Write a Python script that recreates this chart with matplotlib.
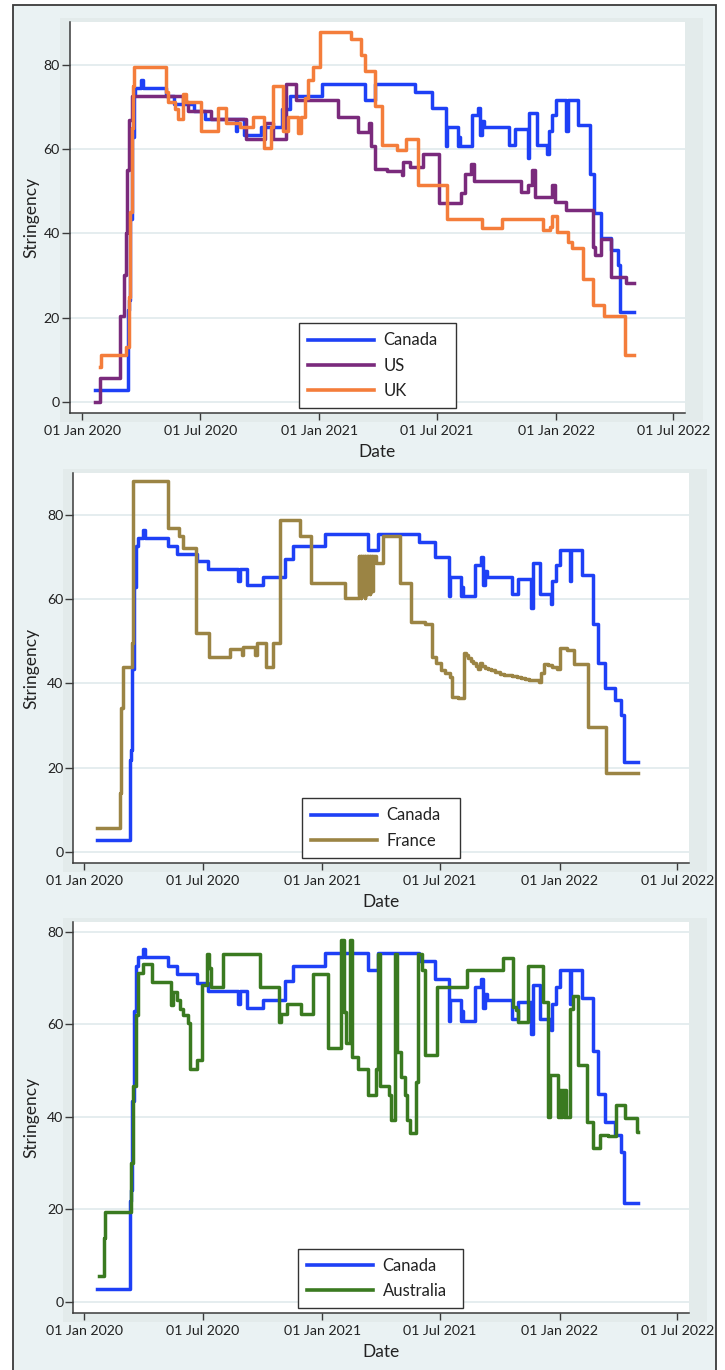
import matplotlib
matplotlib.use("Agg")
import matplotlib.pyplot as plt
import matplotlib.dates as mdates
import pandas as pd
from matplotlib.patches import Rectangle

plt.rcParams['font.family'] = ['Lato', 'DejaVu Sans']

# ---------------- data (OxCGRT-style stringency index, change points) ----------------
canada_dates = ['2020-01-21', '2020-03-11', '2020-03-13', '2020-03-15', '2020-03-17', '2020-03-20',
                '2020-03-23', '2020-03-31', '2020-04-03', '2020-05-09', '2020-05-22', '2020-06-22',
                '2020-07-09', '2020-08-25', '2020-08-27', '2020-09-07', '2020-10-02', '2020-11-04',
                '2020-11-17', '2021-01-05', '2021-03-12', '2021-03-28', '2021-05-29', '2021-06-23',
                '2021-07-15', '2021-07-17', '2021-08-02', '2021-08-04', '2021-08-06', '2021-08-24',
                '2021-09-02', '2021-09-05', '2021-09-08', '2021-09-12', '2021-10-20', '2021-10-29',
                '2021-11-18', '2021-11-21', '2021-12-02', '2021-12-18', '2021-12-21', '2021-12-26',
                '2022-01-01', '2022-01-17', '2022-01-19', '2022-02-04', '2022-02-22', '2022-03-01',
                '2022-03-12', '2022-03-27', '2022-04-06', '2022-04-10', '2022-05-02']
canada_vals = [2.78, 21.76, 24.07, 43.52, 62.96, 72.69,
               74.54, 76.39, 74.54, 72.69, 70.83, 68.98,
               67.13, 64.35, 67.13, 63.43, 65.28, 69.44,
               72.69, 75.46, 71.76, 75.46, 73.61, 69.91,
               60.65, 65.28, 60.65, 62.96, 60.65, 68.06,
               69.91, 63.43, 66.67, 65.28, 61.11, 64.81,
               57.87, 68.52, 61.11, 58.80, 64.35, 68.06,
               71.76, 64.35, 71.76, 65.74, 54.17, 44.91,
               38.89, 36.11, 32.41, 21.30, 21.30]

us_dates = ['2020-01-21', '2020-01-28', '2020-02-28', '2020-03-06', '2020-03-08', '2020-03-10',
            '2020-03-13', '2020-03-18', '2020-06-04', '2020-06-12', '2020-07-18', '2020-09-10',
            '2020-10-09', '2020-10-22', '2020-11-11', '2020-11-26', '2021-01-30', '2021-03-02',
            '2021-03-19', '2021-03-22', '2021-03-27', '2021-04-15', '2021-05-08', '2021-05-10',
            '2021-05-20', '2021-06-10', '2021-07-04', '2021-08-08', '2021-08-13', '2021-08-23',
            '2021-08-27', '2021-11-08', '2021-11-18', '2021-11-25', '2021-11-29', '2021-12-25',
            '2021-12-30', '2022-01-17', '2022-02-27', '2022-03-02', '2022-03-12', '2022-03-27',
            '2022-04-19', '2022-05-02']
us_vals = [0.00, 5.56, 20.37, 30.09, 40.00, 55.00,
           67.00, 72.69, 71.30, 68.98, 67.13, 62.50,
           66.20, 62.50, 75.46, 71.76, 67.69, 64.12,
           66.20, 60.65, 55.32, 54.90, 53.80, 56.94,
           55.79, 58.92, 47.13, 49.54, 54.17, 56.57,
           52.55, 49.87, 51.47, 54.98, 48.71, 51.47,
           47.50, 45.52, 36.78, 34.80, 38.75, 29.70,
           28.12, 28.12]

uk_dates = ['2020-01-28', '2020-01-30', '2020-03-09', '2020-03-13', '2020-03-15', '2020-03-17',
            '2020-03-19', '2020-03-21', '2020-05-09', '2020-05-12', '2020-05-23', '2020-05-28',
            '2020-06-04', '2020-06-09', '2020-07-02', '2020-07-28', '2020-08-10', '2020-08-31',
            '2020-09-20', '2020-10-08', '2020-10-18', '2020-10-21', '2020-11-05', '2020-11-13',
            '2020-11-29', '2020-12-04', '2020-12-09', '2020-12-14', '2020-12-22', '2021-01-02',
            '2021-02-19', '2021-03-06', '2021-03-12', '2021-03-27', '2021-04-08', '2021-05-01',
            '2021-05-15', '2021-06-02', '2021-07-16', '2021-09-08', '2021-10-09', '2021-12-12',
            '2021-12-22', '2021-12-25', '2022-01-02', '2022-01-19', '2022-01-26', '2022-02-12',
            '2022-02-27', '2022-03-16', '2022-04-17', '2022-05-02']
uk_vals = [8.33, 11.11, 12.96, 25.00, 45.00, 65.00,
           75.00, 79.63, 73.61, 71.30, 69.44, 67.13,
           73.15, 71.30, 64.35, 69.91, 66.20, 65.28,
           67.59, 60.19, 65.28, 75.00, 64.35, 67.59,
           63.89, 67.59, 72.22, 76.39, 79.63, 87.96,
           86.11, 82.41, 78.70, 70.37, 61.11, 59.72,
           62.50, 51.39, 43.52, 41.20, 43.52, 40.74,
           41.50, 44.21, 40.28, 37.96, 36.57, 29.26,
           22.92, 20.37, 11.11, 11.11]

france_dates = ['2020-01-21', '2020-02-25', '2020-02-27', '2020-03-01', '2020-03-14', '2020-03-16',
                '2020-05-09', '2020-05-25', '2020-06-01', '2020-06-21', '2020-07-10', '2020-08-12',
                '2020-08-30', '2020-09-01', '2020-09-19', '2020-09-22', '2020-10-07', '2020-10-17',
                '2020-10-28', '2020-11-27', '2020-12-15', '2021-02-05',
                '2021-02-26', '2021-02-27', '2021-02-28', '2021-03-01', '2021-03-02', '2021-03-03',
                '2021-03-04', '2021-03-05', '2021-03-06', '2021-03-07', '2021-03-08', '2021-03-09',
                '2021-03-10', '2021-03-11', '2021-03-12', '2021-03-13', '2021-03-14', '2021-03-15',
                '2021-03-16', '2021-03-17', '2021-03-18', '2021-03-19', '2021-03-20',
                '2021-03-25', '2021-04-04', '2021-04-30', '2021-05-17', '2021-06-08', '2021-06-19',
                '2021-06-25', '2021-07-03', '2021-07-09', '2021-07-16', '2021-07-19', '2021-07-28',
                '2021-08-07', '2021-08-10', '2021-08-13', '2021-08-17', '2021-08-21', '2021-08-25',
                '2021-08-29', '2021-08-31', '2021-09-04', '2021-09-08', '2021-09-13', '2021-09-18',
                '2021-09-24', '2021-10-01', '2021-10-07', '2021-10-13', '2021-10-20', '2021-10-27',
                '2021-11-03', '2021-11-08', '2021-11-15', '2021-11-22', '2021-11-30', '2021-12-03',
                '2021-12-08', '2021-12-14', '2021-12-20', '2021-12-28', '2022-01-01', '2022-01-12',
                '2022-01-23', '2022-02-03', '2022-02-14', '2022-03-14', '2022-05-02']
france_vals = [5.56, 13.89, 34.26, 43.98, 49.54, 87.96,
               76.85, 75.00, 72.22, 51.85, 46.30, 48.15,
               46.76, 48.61, 46.76, 49.54, 43.98, 49.54,
               78.70, 75.00, 63.89, 60.19,
               70.37, 61.11, 70.37, 60.19, 70.37, 61.11,
               70.37, 61.11, 70.37, 60.19, 70.37, 61.11,
               70.37, 61.11, 70.37, 62.04, 70.37, 61.11,
               70.37, 62.04, 70.37, 62.04, 70.37,
               68.52, 75.00, 63.89, 54.63, 54.17, 46.30,
               44.91, 43.24, 42.40, 41.57, 36.81, 36.50,
               47.31, 46.70, 46.10, 45.40, 44.80, 44.10,
               43.40, 44.91, 44.20, 43.60, 43.30, 43.10,
               42.70, 42.30, 42.10, 41.90, 41.70, 41.50,
               41.30, 41.10, 40.90, 40.70, 40.40, 42.40,
               44.70, 44.30, 44.00, 43.40, 48.30, 48.00,
               44.70, 44.50, 29.70, 18.60, 18.60]

australia_dates = ['2020-01-23', '2020-01-31', '2020-02-02', '2020-03-13', '2020-03-16', '2020-03-20',
                   '2020-03-23', '2020-03-31', '2020-04-14', '2020-05-14', '2020-05-17', '2020-05-22',
                   '2020-05-27', '2020-06-01', '2020-06-09', '2020-06-12', '2020-06-22', '2020-06-30',
                   '2020-07-07', '2020-07-11', '2020-07-14', '2020-08-02', '2020-09-27', '2020-10-26',
                   '2020-10-29', '2020-11-07', '2020-11-30', '2020-12-18', '2021-01-10', '2021-01-30',
                   '2021-02-03', '2021-02-06', '2021-02-12', '2021-02-15', '2021-02-25', '2021-03-12',
                   '2021-03-25', '2021-03-27', '2021-03-31', '2021-04-13', '2021-04-17', '2021-04-23',
                   '2021-04-26', '2021-05-02', '2021-05-08', '2021-05-11', '2021-05-16', '2021-05-25',
                   '2021-05-28', '2021-06-03', '2021-06-08', '2021-06-26', '2021-08-11', '2021-10-06',
                   '2021-10-22', '2021-10-26', '2021-10-29', '2021-11-13', '2021-12-06', '2021-12-14',
                   '2021-12-17', '2021-12-29', '2022-01-01', '2022-01-03', '2022-01-05', '2022-01-07',
                   '2022-01-09', '2022-01-11', '2022-01-17', '2022-01-22', '2022-01-30', '2022-02-12',
                   '2022-02-21', '2022-03-04', '2022-03-16', '2022-03-29', '2022-04-12', '2022-04-30',
                   '2022-05-02']
australia_vals = [5.56, 13.89, 19.44, 30.09, 46.76, 62.04,
                  71.00, 72.95, 69.17, 64.27, 67.00, 65.20,
                  63.40, 62.00, 60.20, 50.30, 52.30, 68.50,
                  75.30, 72.10, 68.10, 75.30, 68.10, 60.40,
                  62.30, 64.30, 62.30, 70.80, 54.90, 78.20,
                  62.70, 55.90, 78.20, 53.00, 50.30, 44.70,
                  50.40, 75.30, 46.70, 44.70, 39.30, 75.30,
                  54.00, 48.60, 44.70, 39.30, 36.40, 47.60,
                  75.30, 71.70, 53.30, 68.10, 71.70, 74.40,
                  63.80, 63.00, 60.50, 72.60, 64.90, 40.00,
                  49.00, 40.00, 45.80, 40.00, 45.80, 40.00,
                  45.80, 40.00, 63.40, 66.20, 51.20, 38.90,
                  33.30, 36.00, 35.80, 42.50, 39.80, 36.70,
                  36.70]

tick_dates = ['2020-01-01', '2020-07-01', '2021-01-01', '2021-07-01', '2022-01-01', '2022-07-01']
y_ticks = [0, 20, 40, 60, 80]

colors = {'Canada': '#1e40f6', 'US': '#7a2a7c', 'UK': '#f47d3b',
          'France': '#9b8444', 'Australia': '#3a7a20'}

# ---------------- layout ----------------
W, H = 725, 1370
fig = plt.figure(figsize=(W / 100, H / 100), dpi=100)
fig.patch.set_facecolor('white')

BG = '#eaf2f3'
INNER = '#e3ebeb'
fig.patches.append(Rectangle((13 / W, -0.01), (716 - 13) / W, 1 - 5 / H + 0.01,
                             transform=fig.transFigure, facecolor=BG,
                             edgecolor='#3a3a3a', lw=1.3, zorder=-3))

origin = pd.Timestamp('2020-01-01')


def panel(box, names, ylim, legbox, xl_days):
    left, top, right, bottom = box
    fig.patches.append(Rectangle(((left - 10) / W, 1 - (bottom + 9) / H),
                                 (right - left + 28) / W, (bottom - top + 13) / H,
                                 transform=fig.transFigure, facecolor=INNER,
                                 edgecolor='none', zorder=-2))
    ax = fig.add_axes([left / W, 1 - bottom / H, (right - left) / W, (bottom - top) / H])
    ax.set_facecolor('white')
    data = {'Canada': (canada_dates, canada_vals), 'US': (us_dates, us_vals),
            'UK': (uk_dates, uk_vals), 'France': (france_dates, france_vals),
            'Australia': (australia_dates, australia_vals)}
    for n in names:
        d, v = data[n]
        ax.plot(pd.to_datetime(d), v, drawstyle='steps-post', color=colors[n],
                lw=2.5, label=n)
    ax.set_ylim(*ylim)
    ax.set_xlim(origin + pd.Timedelta(days=xl_days[0]), origin + pd.Timedelta(days=xl_days[1]))
    ax.set_xticks(pd.to_datetime(tick_dates))
    ax.xaxis.set_major_formatter(mdates.DateFormatter('%d %b %Y'))
    ax.set_yticks(y_ticks)
    ax.set_axisbelow(True)
    ax.yaxis.grid(True, color='#e5edef', lw=1.4)
    for s in ['top', 'right']:
        ax.spines[s].set_visible(False)
    for s in ['left', 'bottom']:
        ax.spines[s].set_color('#3a3a3a')
        ax.spines[s].set_linewidth(1.1)
    ax.tick_params(axis='x', length=5, width=1, pad=3.5, labelsize=10.2,
                   color='#3a3a3a', labelcolor='#222222')
    ax.tick_params(axis='y', length=5.8, width=1, pad=1.5, labelsize=10.2,
                   color='#3a3a3a', labelcolor='#222222')
    ax.set_ylabel('Stringency', fontsize=12.5, color='#222222')
    ax.yaxis.set_label_coords((39 - left) / (right - left), 0.5)
    ax.set_xlabel('Date', fontsize=12.5, color='#222222')
    ax.xaxis.set_label_coords(0.5, -31 / (bottom - top))
    lx0, ly0, lx1, ly1 = legbox
    leg = ax.legend(loc='center', mode='expand',
                    bbox_to_anchor=(lx0 / W, 1 - ly1 / H, (lx1 - lx0) / W, (ly1 - ly0) / H),
                    bbox_transform=fig.transFigure, borderaxespad=0,
                    fontsize=12, handlelength=3.95, handletextpad=0.55,
                    borderpad=0.55, labelspacing=0.56, frameon=True, fancybox=False,
                    framealpha=1, edgecolor='#333333')
    leg.get_frame().set_linewidth(1.0)
    for t in leg.get_texts():
        t.set_color('#222222')
    for h in leg.get_lines():
        h.set_linewidth(2.6)
    return ax


panel((70, 21.7, 685, 412.7), ['Canada', 'US', 'UK'], (-2.6, 90.3),
      (299, 324.3, 455.7, 407.3), (-19, 930))
panel((73.4, 473.3, 689, 862.7), ['Canada', 'France'], (-2.6, 89.9),
      (302.3, 799.3, 459.7, 856.7), (-16.8, 930))
panel((73.4, 921.7, 689, 1313.3), ['Canada', 'Australia'], (-2.5, 82.2),
      (298.3, 1250, 462.5, 1306.7), (-16.8, 930))

fig.savefig('out.png', dpi=100, facecolor=fig.get_facecolor())
